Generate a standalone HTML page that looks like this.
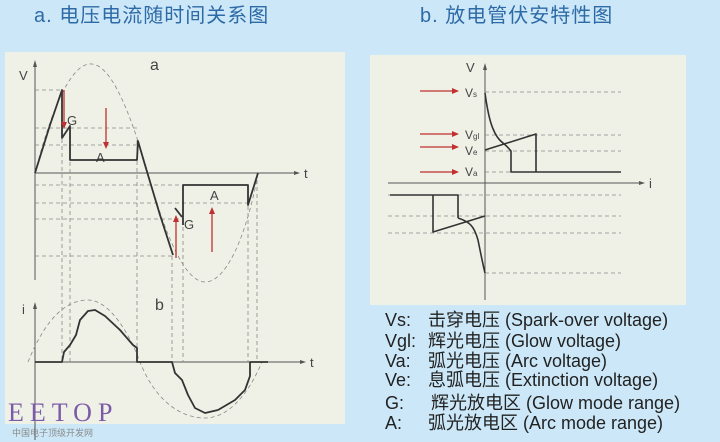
<!DOCTYPE html>
<html><head><meta charset="utf-8"><style>
html,body{margin:0;padding:0;background:#cce8f8;}
svg{display:block}
</style></head><body>
<svg width="720" height="442" viewBox="0 0 720 442" xmlns="http://www.w3.org/2000/svg" font-family="Liberation Sans, Noto Sans CJK SC, sans-serif">
<rect width="720" height="442" fill="#cce8f8"/>
<text x="34" y="22" font-size="20" fill="#2e6aa6" letter-spacing="1">a. 电压电流随时间关系图</text>
<text x="420" y="22" font-size="20" fill="#2e6aa6" letter-spacing="1">b. 放电管伏安特性图</text>
<rect x="5" y="52" width="340" height="372" fill="#eff1e7"/>
<rect x="370" y="55" width="316" height="250" fill="#eff1e7"/>

<g stroke="#555" fill="none" stroke-width="1">
<line x1="35" y1="280" x2="35" y2="64"/>
<line x1="35" y1="173" x2="296" y2="173"/>
<line x1="35" y1="440" x2="35" y2="306"/>
<line x1="35" y1="362" x2="302" y2="362"/>
</g>
<polygon points="35,60 33,67 37,67" fill="#555"/>
<polygon points="300,173 294,171 294,175" fill="#555"/>
<polygon points="35,302 33,309 37,309" fill="#555"/>
<polygon points="306,362 300,360 300,364" fill="#555"/>
<g font-size="13" fill="#444">
<text x="19" y="80">V</text><text x="304" y="178">t</text>
<text x="150" y="70" font-size="16">a</text>
<text x="22" y="314">i</text><text x="310" y="367">t</text>
<text x="155" y="310" font-size="16">b</text>
<text x="67" y="125">G</text><text x="96" y="162">A</text>
<text x="210" y="200">A</text><text x="184" y="229">G</text>
</g>
<g stroke="#888" stroke-width="0.8" stroke-dasharray="4,3" fill="none">
<line x1="35" y1="90" x2="62" y2="90"/>
<line x1="35" y1="128" x2="137" y2="128"/>
<line x1="35" y1="145" x2="140" y2="145"/>
<line x1="35" y1="185" x2="248" y2="185"/>
<line x1="35" y1="203" x2="248" y2="203"/>
<line x1="35" y1="219" x2="183" y2="219"/>
<line x1="35" y1="256" x2="173" y2="256"/>
<line x1="62" y1="90" x2="62" y2="362"/>
<line x1="70" y1="127" x2="70" y2="362"/>
<line x1="137" y1="140" x2="137" y2="362"/>
<line x1="172" y1="256" x2="172" y2="362"/>
<line x1="183" y1="185" x2="183" y2="362"/>
<line x1="248" y1="185" x2="248" y2="362"/>
<line x1="257" y1="173" x2="257" y2="362"/>
<path d="M35,173 C55,95 75,62 92,64 C115,66 135,130 148,173 C165,235 185,282 205,282 C230,282 250,220 258,173"/>
<path d="M28,362 C45,320 65,300 88,300 C110,300 130,335 140,362 C155,400 180,418 205,418 C228,418 248,395 262,362"/>
</g>
<g stroke="#333" stroke-width="1.8" fill="none" stroke-linejoin="round">
<path d="M35,173 L50,125 L62,90 L62,138 L70,126 L70,160 L137,160 L138,141 L145,165 L160,215 L173,255"/>
<path d="M175,208 L182,217"/>
<path d="M183,225 L183,185 L248,185 L248,205 L258,173"/>
<path d="M35,362 L62,362 L64,352 L70,345 L76,335 L80,320 L88,311 L95,310 L105,316 L120,330 L133,345 L137,348 L137,362 L172,362 L175,373 L182,380 L188,395 L195,408 L205,413 L218,410 L235,400 L245,390 L250,376 L250,362 L268,362"/>
</g>
<g stroke="#c03030" stroke-width="1.3">
<line x1="64" y1="90" x2="64" y2="124"/>
<line x1="106" y1="108" x2="106" y2="144"/>
<line x1="176" y1="258" x2="176" y2="220"/>
<line x1="212" y1="252" x2="212" y2="212"/>
</g>
<g fill="#c03030">
<polygon points="64,129 61,122 67,122"/>
<polygon points="106,149 103,142 109,142"/>
<polygon points="176,215 173,222 179,222"/>
<polygon points="212,207 209,214 215,214"/>
</g>
<text x="8" y="421" font-family="Liberation Serif, serif" font-size="26" fill="#7b5aa8" letter-spacing="6">EETOP</text>
<text x="12" y="436" font-size="9" fill="#8a8a8a">中国电子顶级开发网</text>

<g stroke="#555" fill="none" stroke-width="1">
<line x1="485" y1="300" x2="485" y2="68"/>
<line x1="388" y1="183" x2="640" y2="183"/>
</g>
<polygon points="485,63 483,70 487,70" fill="#555"/>
<polygon points="645,183 639,181 639,185" fill="#555"/>
<g font-size="13" fill="#444">
<text x="466" y="72">V</text><text x="649" y="188">i</text>
<text x="465" y="97" font-size="12">V<tspan font-size="8">s</tspan></text>
<text x="465" y="139" font-size="12">V<tspan font-size="8">gl</tspan></text>
<text x="465" y="155" font-size="12">V<tspan font-size="8">e</tspan></text>
<text x="465" y="176" font-size="12">V<tspan font-size="8">a</tspan></text>
</g>
<g stroke="#888" stroke-width="0.8" stroke-dasharray="4,3" fill="none">
<line x1="485" y1="92" x2="621" y2="92"/>
<line x1="485" y1="135" x2="621" y2="135"/>
<line x1="485" y1="151" x2="621" y2="151"/>
<line x1="485" y1="172" x2="510" y2="172"/>
<line x1="388" y1="195" x2="621" y2="195"/>
<line x1="388" y1="216" x2="621" y2="216"/>
<line x1="388" y1="233" x2="621" y2="233"/>
<line x1="485" y1="273" x2="621" y2="273"/>
</g>
<g stroke="#333" stroke-width="1.6" fill="none" stroke-linejoin="round">
<path d="M485,93 C488,115 492,135 503,143 C508,147 510,150 511,151 L511,172 L621,172"/>
<path d="M485,150 L536,134 L536,172"/>
<path d="M390,195 L458,195 L458,218"/>
<path d="M433,195 L433,232 L485,216"/>
<path d="M458,218 C470,222 474,226 478,240 C481,255 483,265 485,273"/>
</g>
<g stroke="#c03030" stroke-width="1.3">
<line x1="420" y1="91" x2="454" y2="91"/>
<line x1="420" y1="134" x2="454" y2="134"/>
<line x1="420" y1="147" x2="454" y2="147"/>
<line x1="420" y1="172" x2="454" y2="172"/>
</g>
<g fill="#c03030">
<polygon points="459,91 452,88 452,94"/>
<polygon points="459,134 452,131 452,137"/>
<polygon points="459,147 452,144 452,150"/>
<polygon points="459,172 452,169 452,175"/>
</g>
<g font-size="18" fill="#222">
<text x="385" y="326">Vs:</text><text x="428" y="326">击穿电压 (Spark-over voltage)</text>
<text x="385" y="347">Vgl:</text><text x="428" y="347">辉光电压 (Glow voltage)</text>
<text x="385" y="367">Va:</text><text x="428" y="367">弧光电压 (Arc voltage)</text>
<text x="385" y="386">Ve:</text><text x="428" y="386">息弧电压 (Extinction voltage)</text>
<text x="385" y="409">G:</text><text x="431" y="409">辉光放电区 (Glow mode range)</text>
<text x="385" y="429">A:</text><text x="428" y="429">弧光放电区 (Arc mode range)</text>
</g>
</svg>
</body></html>
